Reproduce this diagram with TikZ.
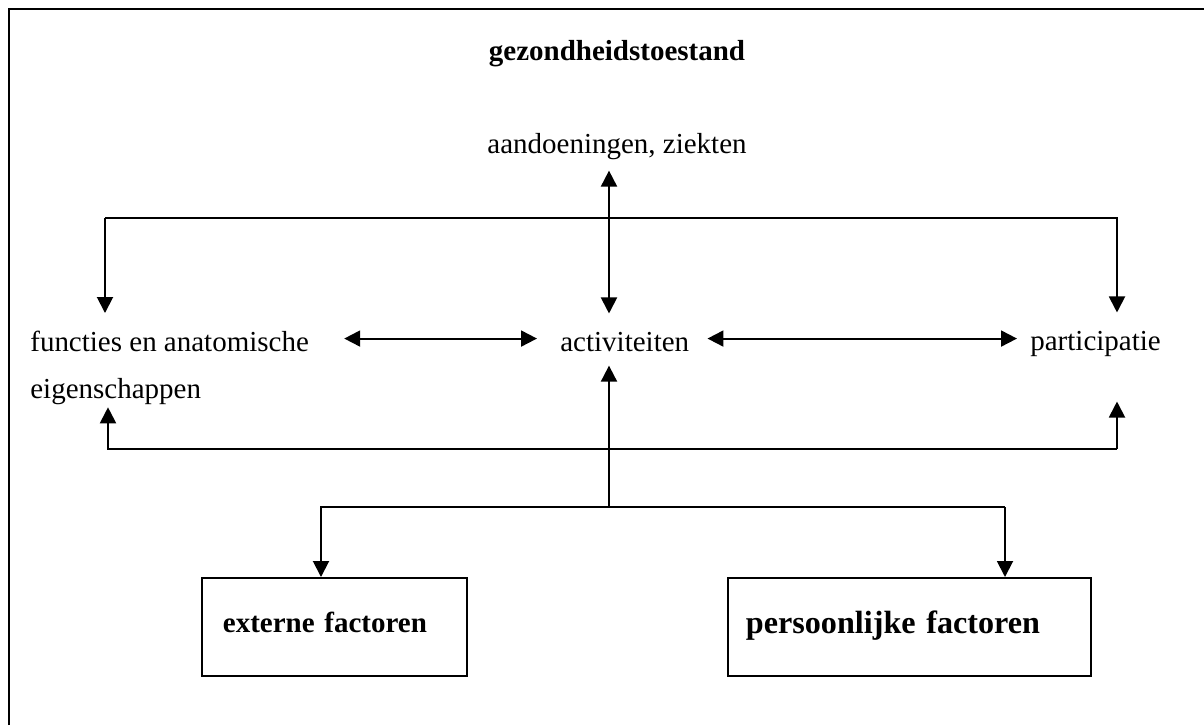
\documentclass[tikz,border=0pt]{standalone}
\usepackage{fontspec}
\setmainfont{Liberation Serif}
\usetikzlibrary{arrows.meta,calc}

\begin{document}
\begin{tikzpicture}[x=0.02cm, y=-0.02cm, font=\fontsize{16.5}{25}\selectfont]
        \tikzset{
            tekst/.style={
                inner sep=0pt,
                align=left
            },
            factor/.style={
                draw=black,
                line width=1.1pt,
                minimum height=1.96cm,
                inner ysep=0pt,
                text depth=0.2cm,
                align=left,
                anchor=north west,
                font=\fontsize{16.5}{25}\selectfont\bfseries
            },
            kader/.style={line width=1.5pt, draw=black},
            pijl/.style={-{Triangle[length=0.32cm, width=0.32cm]}, line width=1.1pt, draw=black},
            dubbelpijl/.style={{Triangle[length=0.32cm, width=0.32cm]}-{Triangle[length=0.32cm, width=0.32cm]}, line width=1.1pt, draw=black}
        }

        \useasboundingbox (0,0) rectangle (1204,725);
        \draw[kader] (9,725) -- (9,9) -- (1204,9);

        \node[tekst, anchor=base, font=\fontsize{16.5}{25}\selectfont\bfseries] (toestand) at (617,60) {gezondheidstoestand};
        \node[tekst, anchor=base] (aandoening) at (617,153) {aandoeningen, ziekten};
        \node[tekst, anchor=north west] (functies) at (30,331) {functies en anatomische\\[0.06cm]eigenschappen};
        \node[tekst, anchor=base west] (activiteiten) at (560,351) {activiteiten};
        \node[tekst, anchor=base west] (participatie) at (1030,350) {participatie};
        \node[factor, minimum width=5.3cm, inner xsep=0.42cm, text width=4.46cm] (extern) at (201,577) {externe factoren};
        \node[factor, minimum width=7.26cm, inner xsep=0.36cm, text width=6.54cm,
            font=\fontsize{18.3}{25}\selectfont\bfseries] (persoonlijk) at (727,577) {persoonlijke factoren};

        \coordinate (tl) at (105,218);
        \coordinate (tr) at (1117,218);
        \coordinate (bl) at (108,449);
        \coordinate (br) at (1117,449);
        \coordinate (splits) at (609,507);
        \coordinate (sl) at (321,507);
        \coordinate (sr) at (1005,507);

        \draw[dubbelpijl] ($(aandoening.south -| splits)+(0,11)$) -- ($(activiteiten.north -| splits)+(0,-18)$);
        \draw[pijl] (tl) -- ($(functies.north -| tl)+(0,-18)$);
        \draw[pijl] (tl) -- (tr) -- ($(participatie.north -| tr)+(0,-18)$);
        \draw[dubbelpijl] ($(functies.east |- activiteiten.west)+(35,-3)$) -- ($(activiteiten.west)+(-23,-3)$);
        \draw[dubbelpijl] ($(activiteiten.east)+(18,-3)$) -- ($(participatie.west |- activiteiten.east)+(-13,-3)$);
        \draw[pijl] (br) -- (bl) -- ($(functies.south -| bl)+(0,2)$);
        \draw[pijl] (br) -- ($(participatie.south -| br)+(0,45)$);
        \draw[pijl] (splits) -- ($(activiteiten.south -| splits)+(0,14)$);
        \draw[pijl] (sr) -- (sl) -- (sl |- extern.north);
        \draw[pijl] (sr) -- (sr |- persoonlijk.north);
    \end{tikzpicture}
\end{document}
